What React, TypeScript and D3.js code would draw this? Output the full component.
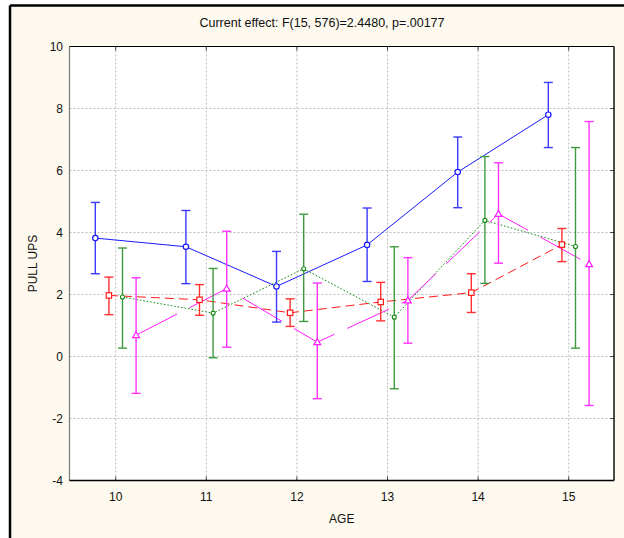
import React from 'react';
import * as d3 from 'd3';

// Ages on the horizontal axis and value ticks on the vertical axis
const ages = [10, 11, 12, 13, 14, 15];
const yTicks = [-4, -2, 0, 2, 4, 6, 8, 10];

// Group 1 (blue, circles, solid)
const blueMean = [3.82, 3.54, 2.26, 3.6, 5.95, 7.8];
const blueLow = [2.67, 2.35, 1.11, 2.42, 4.8, 6.74];
const blueHigh = [4.97, 4.71, 3.39, 4.79, 7.08, 8.84];

// Group 2 (red, squares, dashed)
const redMean = [1.97, 1.83, 1.41, 1.76, 2.06, 3.61];
const redLow = [1.35, 1.33, 0.97, 1.15, 1.42, 3.06];
const redHigh = [2.56, 2.32, 1.86, 2.39, 2.67, 4.13];

// Group 3 (green, small circles, dotted)
const greenMean = [1.92, 1.4, 2.83, 1.27, 4.39, 3.55];
const greenLow = [0.27, -0.04, 1.13, -1.04, 2.36, 0.27];
const greenHigh = [3.5, 2.84, 4.59, 3.54, 6.45, 6.74];

// Group 4 (magenta, triangles, long dash)
const magentaMean = [0.69, 2.19, 0.46, 1.81, 4.6, 2.98];
const magentaLow = [-1.19, 0.3, -1.36, 0.43, 3.01, -1.58];
const magentaHigh = [2.54, 4.04, 2.37, 3.19, 6.25, 7.58];

const titleText = 'Current effect: F(15, 576)=2.4480, p=.00177';
const xTitle = 'AGE';
const yTitle = 'PULL UPS';

type Series = {
  mean: number[];
  low: number[];
  high: number[];
  offset: number;
  color: string;
  barColor: string;
  dash: string | undefined;
  marker: 'circle' | 'square' | 'dot' | 'triangle';
};

const series: Series[] = [
  { mean: blueMean, low: blueLow, high: blueHigh, offset: -0.225, color: '#1a1aff', barColor: '#3a3aff', dash: undefined, marker: 'circle' },
  { mean: redMean, low: redLow, high: redHigh, offset: -0.075, color: '#ff1a1a', barColor: '#ff3030', dash: '9,5', marker: 'square' },
  { mean: greenMean, low: greenLow, high: greenHigh, offset: 0.075, color: '#138a13', barColor: '#3f9a3f', dash: '1.6,1.9', marker: 'dot' },
  { mean: magentaMean, low: magentaLow, high: magentaHigh, offset: 0.225, color: '#ff1aff', barColor: '#ff33ff', dash: '46,14', marker: 'triangle' },
];

const W = 624;
const H = 538;
const left = 69.5;
const right = 614;
const top = 46.5;
const bottom = 480.5;

export default function App() {
  const x = d3.scaleLinear().domain([9.49, 15.5]).range([left, right]);
  const y = d3.scaleLinear().domain([-4, 10]).range([bottom, top]);
  const line = d3
    .line<[number, number]>()
    .x((d) => d[0])
    .y((d) => d[1]);
  const font = 'Liberation Sans, Arial, sans-serif';

  const marker = (s: Series, cx: number, cy: number, key: string) => {
    if (s.marker === 'circle')
      return <circle key={key} cx={cx} cy={cy} r={2.7} fill="#fff" stroke={s.color} strokeWidth={1.2} />;
    if (s.marker === 'dot')
      return <circle key={key} cx={cx} cy={cy} r={2} fill="#fff" stroke={s.color} strokeWidth={1.1} />;
    if (s.marker === 'square')
      return <rect key={key} x={cx - 2.7} y={cy - 2.7} width={5.4} height={5.4} fill="#fff" stroke={s.color} strokeWidth={1.2} />;
    const tri = d3.symbol(d3.symbolTriangle, 20)();
    return <path key={key} d={tri || ''} transform={`translate(${cx},${cy + 0.5})`} fill="#fff" stroke={s.color} strokeWidth={1.2} />;
  };

  return (
    <svg
      width={W}
      height={H}
      style={{ position: 'absolute', left: 0, top: 0, display: 'block' }}
      fontFamily={font}
    >
      <rect x={0} y={0} width={W} height={H} fill="#ffffff" />
      <rect x={10} y={5.5} width={W} height={H} fill="#fdf9ee" />
      <line x1={10} y1={5.5} x2={W} y2={5.5} stroke="#000" strokeWidth={2.5} />
      <line x1={10} y1={5.5} x2={10} y2={H} stroke="#000" strokeWidth={2.5} />

      <text x={322} y={27} textAnchor="middle" fontSize={12.5} fill="#111">
        {titleText}
      </text>

      {/* plot area */}
      <rect x={left} y={top} width={right - left} height={bottom - top} fill="#fff" />

      {/* grid */}
      {ages.map((a) => (
        <line key={'gx' + a} x1={x(a)} x2={x(a)} y1={top} y2={bottom} stroke="#bdbdbd" strokeWidth={1} strokeDasharray="2,2" />
      ))}
      {yTicks.map((t) => (
        <line key={'gy' + t} x1={left} x2={right} y1={y(t)} y2={y(t)} stroke="#bdbdbd" strokeWidth={1} strokeDasharray="2,2" />
      ))}

      {/* inner ticks */}
      {ages.map((a) => (
        <g key={'tx' + a}>
          <line x1={x(a)} x2={x(a)} y1={top} y2={top + 4} stroke="#444" />
          <line x1={x(a)} x2={x(a)} y1={bottom} y2={bottom - 4} stroke="#444" />
        </g>
      ))}
      {yTicks.map((t) => (
        <g key={'ty' + t}>
          <line x1={right} x2={right - 4} y1={y(t)} y2={y(t)} stroke="#444" />
        </g>
      ))}

      {/* series lines */}
      {series.map((s, i) => (
        <path
          key={'l' + i}
          d={line(s.mean.map((m, j) => [x(ages[j] + s.offset), y(m)] as [number, number])) || ''}
          fill="none"
          stroke={s.color}
          strokeWidth={1}
          strokeDasharray={s.dash}
        />
      ))}

      {/* error bars */}
      {series.map((s, i) =>
        ages.map((a, j) => {
          const cx = x(a + s.offset);
          return (
            <g key={'e' + i + '-' + j} stroke={s.barColor} strokeWidth={1.4}>
              <line x1={cx} x2={cx} y1={y(s.low[j])} y2={y(s.high[j])} />
              <line x1={cx - 4.5} x2={cx + 4.5} y1={y(s.low[j])} y2={y(s.low[j])} />
              <line x1={cx - 4.5} x2={cx + 4.5} y1={y(s.high[j])} y2={y(s.high[j])} />
            </g>
          );
        })
      )}

      {/* markers */}
      {series.map((s, i) => s.mean.map((m, j) => marker(s, x(ages[j] + s.offset), y(m), 'm' + i + '-' + j)))}

      {/* frame */}
      <line x1={left} x2={left} y1={top} y2={bottom} stroke="#777" strokeWidth={1.2} />
      <line x1={left} x2={right} y1={bottom} y2={bottom} stroke="#000" strokeWidth={1.4} />
      <line x1={left} x2={right} y1={top} y2={top} stroke="#000" strokeWidth={1.2} />
      <line x1={right} x2={right} y1={top} y2={bottom} stroke="#000" strokeWidth={1.4} />

      {/* tick labels */}
      {yTicks.map((t) => (
        <text key={'yl' + t} x={63} y={y(t)} dy="0.35em" textAnchor="end" fontSize={12} fill="#111">
          {t}
        </text>
      ))}
      {ages.map((a) => (
        <text key={'xl' + a} x={x(a)} y={497} dy="0.35em" textAnchor="middle" fontSize={12} fill="#111">
          {a}
        </text>
      ))}

      <text x={(left + right) / 2} y={519} dy="0.35em" textAnchor="middle" fontSize={12} fill="#111">
        {xTitle}
      </text>
      <text
        transform={`translate(33,${(top + bottom) / 2}) rotate(-90)`}
        dy="0.35em"
        textAnchor="middle"
        fontSize={12}
        fill="#111"
      >
        {yTitle}
      </text>
    </svg>
  );
}
